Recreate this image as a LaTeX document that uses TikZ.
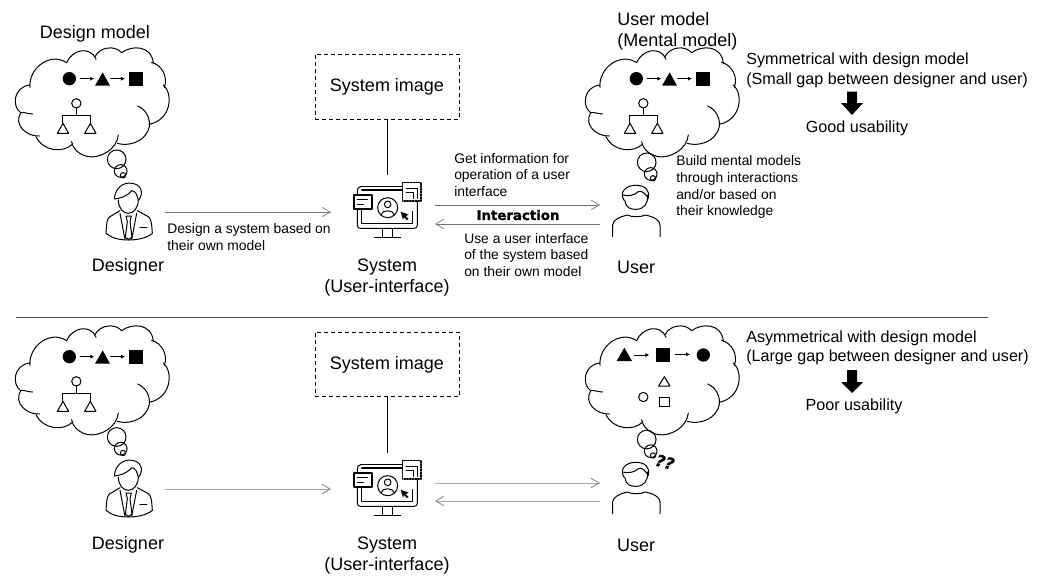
\documentclass[tikz,border=0pt]{standalone}
\usepackage{fontspec}
\setmainfont{Liberation Sans}
\newfontfamily\blackfont[BoldFeatures={FakeBold=1.2},BoldItalicFeatures={FakeBold=1.2}]{DejaVu Sans}
\usetikzlibrary{arrows.meta}
\tikzset{
 x=0.75pt,y=-0.75pt,
 big/.style={font=\fontsize{13.5}{15.75}\selectfont,inner sep=0pt,align=center},
 mid/.style={font=\fontsize{12.1}{14.6}\selectfont,inner sep=0pt,align=left},
 small/.style={font=\fontsize{10.4}{12.7}\selectfont,inner sep=0pt,align=left},
 ln/.style={line width=0.75pt,line cap=round,line join=round},
 conn/.style={line width=0.5pt,draw=black!55,-{Straight Barb[length=6pt,width=7pt,black!55]}},
 connpale/.style={line width=0.65pt,draw=black!35,-{Straight Barb[length=6pt,width=7pt,black!45]}},
 mini/.style={line width=0.55pt,-{Latex[length=3pt,width=3pt]}},
 hold/.style={inner sep=0pt,outer sep=0pt},
 simage/.style={big,draw,line width=0.6pt,dash pattern=on 3pt off 2.2pt,minimum width=108pt,minimum height=48.5pt},
}
\newcommand{\cloudshape}[2]{\begin{scope}[shift={(#1,#2)},scale=1/3,ln]
 \draw (90,262) .. controls (85,205) and (150,155) .. (200,188);
 \draw (200,188) .. controls (215,150) and (270,135) .. (288,178);
 \draw (285,170) .. controls (300,140) and (345,135) .. (365,158);
 \draw (365,158) .. controls (395,135) and (455,135) .. (460,190);
 \draw (455,187) .. controls (485,195) and (505,230) .. (493,262);
 \draw (490,255) .. controls (520,280) and (515,360) .. (447,373);
 \draw (413,318) .. controls (445,330) and (460,375) .. (438,402) .. controls (425,425) and (385,440) .. (352,430);
 \draw (355,405) .. controls (350,450) and (300,475) .. (265,470) .. controls (240,465) and (220,450) .. (215,425);
 \draw (218,432) .. controls (190,460) and (130,455) .. (108,410);
 \draw (118,408) .. controls (80,410) and (40,375) .. (62,338) .. controls (70,335) and (85,342) .. (98,342);
 \draw (62,338) .. controls (35,320) and (40,260) .. (90,255);
 \end{scope}}
\newcommand{\bubbles}[2]{\begin{scope}[shift={(#1,#2)},scale=1/3,ln]
 \draw (0,0) circle (28);
 \draw (12,35) circle (19);
 \draw (19,48) circle (8);
 \end{scope}}
\newcommand{\ordered}[2]{\begin{scope}[shift={(#1,#2)},scale=1/3,ln]
 \fill (208,236) circle (20);
 \fill (285,257) -- (330,257) -- (308,217) -- cycle;
 \fill (388,216) rectangle (430,258);
 \coordinate (ma) at (240,236); \coordinate (mb) at (283,236);
 \coordinate (mc) at (332,236); \coordinate (md) at (375,236);
 \draw[mini] (ma) -- (mb);
 \draw[mini] (mc) -- (md);
 \draw (229,310) circle (14);
 \draw (229,324) -- (229,346);
 \draw (188,370) -- (188,346) -- (272,346) -- (272,370);
 \draw (172,400) -- (206,400) -- (189,370) -- cycle;
 \draw (254,400) -- (288,400) -- (271,370) -- cycle;
 \end{scope}}
\newcommand{\designericon}[2]{\begin{scope}[shift={(#1,#2)},scale=1/3,ln]
 \draw (355,600) .. controls (355,625) and (370,640) .. (385,640) .. controls (402,640) and (415,622) .. (415,600);
 \draw (343,597) .. controls (345,565) and (370,545) .. (395,550) .. controls (420,552) and (435,575) .. (415,602) .. controls (413,585) and (405,572) .. (395,572) .. controls (380,590) and (360,595) .. (343,597);
 \draw (360,632) -- (330,650) .. controls (322,655) and (320,665) .. (318,700) .. controls (335,715) and (360,720) .. (385,720) .. controls (410,720) and (440,715) .. (457,700) .. controls (455,665) and (452,655) .. (445,650) -- (412,632);
 \draw (360,640) -- (375,718);
 \draw (410,640) -- (395,718);
 \draw (378,648) -- (394,648) -- (390,665) -- (396,712) -- (385,718) -- (376,712) -- (382,665) -- cycle;
 \draw[line width=1.1pt] (420,682) -- (440,682);
 \end{scope}}
\newcommand{\systemicon}[2]{\begin{scope}[shift={(#1,#2)},scale=1/3,ln]
 \draw (215,50) -- (92,50);
 \draw[line width=1pt] (95,60) -- (215,60);
 \draw (92,50) .. controls (84,50) and (82,55) .. (82,72);
 \draw (82,118) -- (82,165) .. controls (82,172) and (85,175) .. (92,175) -- (252,175) .. controls (259,175) and (262,172) .. (262,165) -- (262,93);
 \draw (95,118) -- (95,160) -- (248,160) -- (248,125);
 \draw (228,55) -- (262,55) -- (262,85);
 \draw (228,68) -- (250,68) -- (250,85);
 \draw[line width=1.1pt,densely dotted] (218,38) rectangle (273,93);
 \draw[line width=1pt] (72,75) rectangle (126,117);
 \draw[line width=1pt] (82,88) -- (112,88);
 \draw[line width=1pt] (82,103) -- (100,103);
 \draw (173,113) circle (30);
 \draw (173,103) circle (10);
 \draw (153,135) .. controls (155,118) and (190,118) .. (193,135);
 \fill (212,125) -- (236,134) -- (227,138) -- (236,147) -- (231,150) -- (222,141) -- (219,149) -- cycle;
 \draw (157,177) -- (157,200);
 \draw (188,177) -- (188,200);
 \draw (133,201) -- (212,201);
 \end{scope}}
\newcommand{\usericon}[2]{\begin{scope}[shift={(#1,#2)},scale=1/3,ln]
 \draw (165,602) .. controls (168,625) and (182,628) .. (198,628) .. controls (222,628) and (236,610) .. (232,585);
 \draw (163,602) .. controls (145,575) and (170,555) .. (198,556) .. controls (225,556) and (240,570) .. (235,595) .. controls (225,580) and (215,570) .. (205,575) .. controls (195,585) and (175,590) .. (158,585);
 \draw (128,710) -- (128,675) .. controls (128,660) and (150,650) .. (172,645) .. controls (185,652) and (212,652) .. (226,645) .. controls (250,650) and (270,660) .. (270,675) -- (270,710);
 \end{scope}}
\begin{document}
\begin{tikzpicture}
\useasboundingbox (0,0) rectangle (1041,576);
% ---- upper half
\node[big] (dm) at (95,34) {Design model};
\cloudshape{0}{0}
\ordered{0}{0}
\bubbles{116.7}{159.3}
\designericon{0}{0}
\node[hold,minimum width=55.5pt,minimum height=19.5pt] (designerA) at (128,212) {};
\node[big] (dl) at (128,267) {Designer};
\node[small,anchor=west] (dt) at (167,237) {Design a system based on\\their own model};

\node[simage] (siA) at (387,86.7) {System image};
\systemicon{330}{170}
\node[hold,minimum width=78pt,minimum height=55.5pt] (systemA) at (383,212) {};
\node[big] (sl) at (387,277.5) {System\\(User-interface)};
\draw[line width=0.6pt] (siA.south) -- (siA.south |- systemA.north);
\node[small,anchor=west] (gi) at (454,175) {Get information for\\operation of a user\\interface};
\node[font=\blackfont\bfseries\fontsize{10}{12}\selectfont,inner sep=0pt] (ia) at (518,215) {Interaction};
\node[small,anchor=west] (ui) at (464,255) {Use a user interface\\of the system based\\on their own model};
\node[hold,minimum width=45pt,minimum height=19.5pt] (userA) at (630,212) {};
\draw[conn] (designerA.east) -- (systemA.west);
\draw[conn] ([yshift=5.25pt]systemA.east) -- ([yshift=5.25pt]userA.west);
\draw[conn] ([yshift=-9pt]userA.west) -- ([yshift=-9pt]systemA.east);

\node[big,anchor=west,align=left] (um) at (617,31) {User model\\(Mental model)};
\cloudshape{570}{0}
\ordered{567}{0}
\bubbles{646.7}{162.3}
\usericon{570}{0}
\node[big] (ul) at (636,267) {User};
\node[small,anchor=west] (bm) at (676,187) {Build mental models\\through interactions\\and/or based on\\their knowledge};
\node[mid,anchor=west] (sym) at (746,70.5) {Symmetrical with design model\\(Small gap between designer and user)};
\fill (847,91.5) -- (857,91.5) -- (857,103) -- (863,103) -- (852,115) -- (841,103) -- (847,103) -- cycle;
\node[mid,align=center] (gu) at (857,128) {Good usability};
% ---- divider
\coordinate (divL) at (16,317.5);
\coordinate (divR) at (988,317.5);
\draw[line width=0.7pt,black!70] (divL) -- (divR);
% ---- lower half
\cloudshape{0}{278}
\ordered{0}{278}
\bubbles{116.7}{437}
\designericon{0}{277}
\node[hold,minimum width=55.5pt,minimum height=19.5pt] (designerB) at (128,489) {};
\node[big] (dlb) at (128,545) {Designer};
\node[simage] (siB) at (387,364.5) {System image};
\systemicon{330}{448}
\node[hold,minimum width=78pt,minimum height=54pt] (systemB) at (383,489) {};
\node[big] (slb) at (387,555.5) {System\\(User-interface)};
\draw[line width=0.6pt] (siB.south) -- (siB.south |- systemB.north);
\node[hold,minimum width=45pt,minimum height=19.5pt] (userB) at (630,489) {};
\draw[connpale] (designerB.east) -- (systemB.west);
\draw[connpale] ([yshift=4.5pt]systemB.east) -- ([yshift=4.5pt]userB.west);
\draw[connpale] ([yshift=-9pt]userB.west) -- ([yshift=-9pt]systemB.east);
\cloudshape{570}{278}
\begin{scope}[shift={(570,300)},scale=1/3,ln]
 \fill (140,183) -- (186,183) -- (163,143) -- cycle;
 \coordinate (na) at (192,165); \coordinate (nb) at (238,165);
 \coordinate (nc) at (315,163); \coordinate (nd) at (360,163);
 \draw[mini] (na) -- (nb);
 \fill (258,143) rectangle (300,185);
 \draw[mini] (nc) -- (nd);
 \fill (400,165) circle (20);
 \draw (266,258) -- (300,258) -- (283,230) -- cycle;
 \draw (220,291) circle (14);
 \draw (268,292) rectangle (297,319);
\end{scope}
\bubbles{646.7}{439.5}
\usericon{570}{277}
\node[font=\blackfont\bfseries\itshape\fontsize{12}{14}\selectfont,inner sep=0pt,rotate=-15] (qq) at (665,462) {??};
\node[big] (ulb) at (636,545) {User};
\node[mid,anchor=west] (asym) at (746,348) {Asymmetrical with design model\\(Large gap between designer and user)};
\fill (847,370) -- (857,370) -- (857,382) -- (863,382) -- (852,393) -- (841,382) -- (847,382) -- cycle;
\node[mid,align=center] (pu) at (854,406) {Poor usability};
\end{tikzpicture}
\end{document}
